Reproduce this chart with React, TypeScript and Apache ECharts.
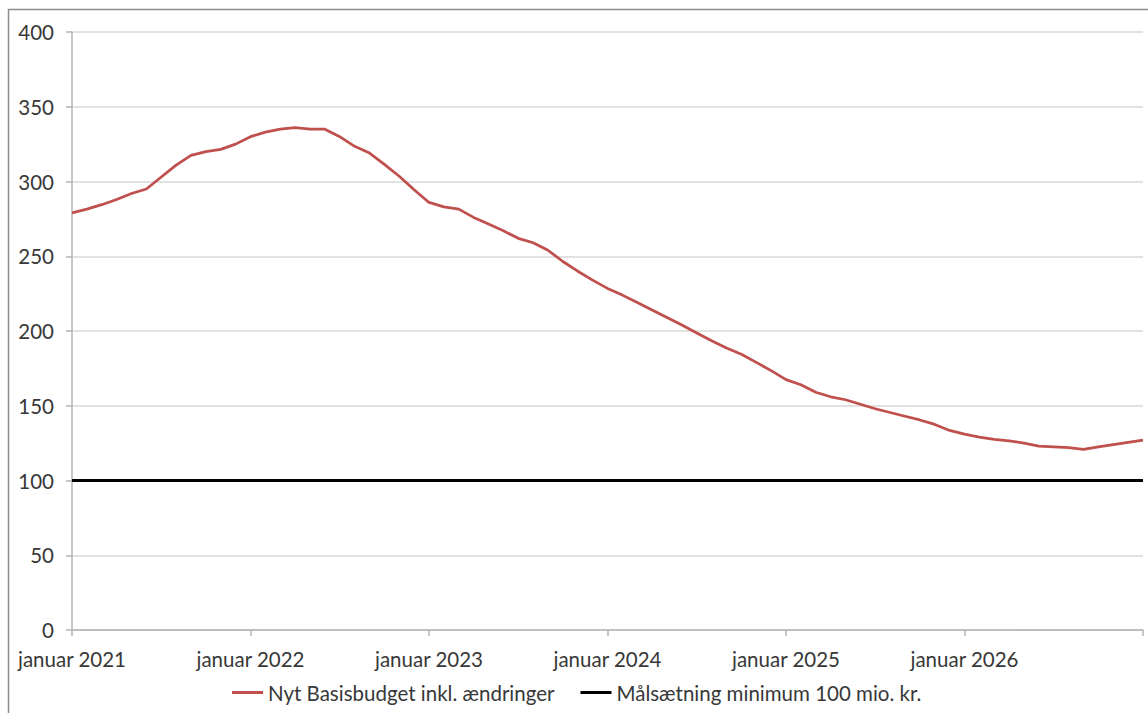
import React, { useEffect, useRef } from "react";
import * as echarts from "echarts";

// Month index 0 = januar 2021 ... 72 = januar 2027 (end of chart)
const months: number[] = Array.from({ length: 73 }, (_, i) => i);
const budgetValues: number[] = [
  279, 281.5, 284.5, 288, 292, 295, 303, 311, 317.5, 320, 321.5, 325,
  330, 333, 335, 336, 335, 335, 330, 323.5, 319, 311.5, 303.5, 294.5,
  286, 283, 281.5, 276, 271.5, 267, 262, 259, 254, 246.5, 240, 234,
  228.5, 224, 219, 214, 209, 204, 198.7, 193.5, 188.6, 184.5, 179, 173.5,
  167.5, 164, 159, 156, 154, 151, 148, 145.5, 143, 140.5, 137.5, 133.5,
  131, 129, 127.5, 126.5, 125, 123, 122.5, 122, 120.8, 122.5, 124, 125.5,
  127,
];
const targetX: number[] = [0, 72];
const targetValues: number[] = [100, 100];
const yearLabels: string[] = [
  "januar 2021",
  "januar 2022",
  "januar 2023",
  "januar 2024",
  "januar 2025",
  "januar 2026",
  "",
];
const seriesNames: string[] = [
  "Nyt Basisbudget inkl. ændringer",
  "Målsætning minimum 100 mio. kr.",
];

const FONT = "Lato, Carlito, Calibri, 'DejaVu Sans', sans-serif";
const TEXT = "#383838";
const FS = 20.5;

export default function App() {
  const ref = useRef<HTMLDivElement>(null);
  useEffect(() => {
    if (!ref.current) return;
    const chart = echarts.init(ref.current, undefined, { renderer: "svg" });
    chart.setOption({
      animation: false,
      backgroundColor: "#ffffff",
      textStyle: { fontFamily: FONT },
      grid: { left: 72, top: 32, right: 5, bottom: 83, containLabel: false },
      graphic: [
        {
          type: "rect",
          shape: { x: 8.5, y: 9.5, width: 1300, height: 900 },
          style: { fill: "none", stroke: "#8c8c8c", lineWidth: 1.5 },
          silent: true,
          z: -10,
        },
      ],
      legend: {
        left: 227,
        top: 677,
        itemWidth: 31,
        itemHeight: 3,
        itemGap: 26,
        textStyle: { color: TEXT, fontSize: FS, fontFamily: FONT },
        data: [
          { name: seriesNames[0], icon: "rect" },
          { name: seriesNames[1], icon: "rect" },
        ],
      },
      xAxis: {
        type: "value",
        min: 0,
        max: 72,
        interval: 12,
        axisLine: { show: true, lineStyle: { color: "#b4b4b4", width: 1.5 } },
        axisTick: { show: true, length: 6, lineStyle: { color: "#b4b4b4", width: 1.5 } },
        splitLine: { show: false },
        axisLabel: {
          color: TEXT,
          fontSize: FS,
          fontFamily: FONT,
          margin: 18,
          showMaxLabel: true,
          formatter: (v: number) => yearLabels[Math.round(v / 12)] ?? "",
        },
      },
      yAxis: {
        type: "value",
        min: 0,
        max: 400,
        interval: 50,
        axisLine: { show: true, lineStyle: { color: "#b4b4b4", width: 1.5 } },
        axisTick: { show: true, length: 6, lineStyle: { color: "#b4b4b4", width: 1.5 } },
        splitLine: { show: true, lineStyle: { color: "#d9d9d9", width: 1.5 } },
        axisLabel: { color: TEXT, fontSize: FS, fontFamily: FONT, margin: 18 },
      },
      series: [
        {
          name: seriesNames[0],
          type: "line",
          data: months.map((m, i) => [m, budgetValues[i]]),
          showSymbol: false,
          symbol: "none",
          lineStyle: { color: "#C0504D", width: 2.75 },
          itemStyle: { color: "#C0504D" },
          z: 3,
        },
        {
          name: seriesNames[1],
          type: "line",
          data: targetX.map((x, i) => [x, targetValues[i]]),
          showSymbol: false,
          symbol: "none",
          lineStyle: { color: "#000000", width: 3 },
          itemStyle: { color: "#000000" },
          z: 2,
        },
      ],
    });
    return () => chart.dispose();
  }, []);
  return (
    <div
      ref={ref}
      style={{ position: "fixed", left: 0, top: 0, width: 1148, height: 713 }}
    />
  );
}
